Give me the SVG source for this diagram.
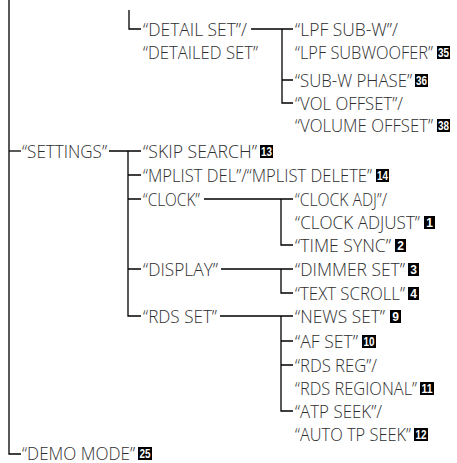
<svg xmlns="http://www.w3.org/2000/svg" width="457" height="463" viewBox="0 0 457 463">
<style>
.t{font-family:"Open Sans","Liberation Sans",sans-serif;font-weight:300;font-size:17.5px;fill:#2e2e2e}
.b{fill:#000}
.bt{font-family:"Liberation Sans","DejaVu Sans",sans-serif;font-size:12px;font-weight:bold;fill:#fff;text-anchor:middle}
.c{fill:none;stroke:#000;stroke-width:1.3}
</style>
<rect width="457" height="463" fill="#fff"/>
<g id="connectors">
<path class="c" d="M9 0V454H21"/>
<path class="c" d="M9 151H21"/>
<path class="c" d="M129 10V29H141"/>
<path class="c" d="M251 29H293M282 29V103H293M282 80H293"/>
<path class="c" d="M109 151H141M128 151V316H141M128 175H141M128 199H141M128 269H141"/>
<path class="c" d="M204 199H293M281 199V245H293"/>
<path class="c" d="M221 269H293M281 269V293H293"/>
<path class="c" d="M220 316H293M281 316V411H293M281 341H293M281 365H293"/>
</g>
<g id="detail-set"><text class="t" x="143" y="36" textLength="104" lengthAdjust="spacingAndGlyphs">“DETAIL SET”/</text><text class="t" x="143" y="59" textLength="115" lengthAdjust="spacingAndGlyphs">“DETAILED SET”</text></g>
<g id="lpf"><text class="t" x="295" y="36" textLength="103" lengthAdjust="spacingAndGlyphs">“LPF SUB-W”/</text><text class="t" x="295" y="59" textLength="138" lengthAdjust="spacingAndGlyphs">“LPF SUBWOOFER”</text><rect class="b" x="437" y="46" width="13" height="13"/><text class="bt" x="443.5" y="57" textLength="11" lengthAdjust="spacingAndGlyphs">35</text></g>
<g id="subw-phase"><text class="t" x="295" y="87" textLength="117" lengthAdjust="spacingAndGlyphs">“SUB-W PHASE”</text><rect class="b" x="415" y="74" width="13" height="13"/><text class="bt" x="421.5" y="85" textLength="11" lengthAdjust="spacingAndGlyphs">36</text></g>
<g id="vol-offset"><text class="t" x="295" y="110" textLength="108" lengthAdjust="spacingAndGlyphs">“VOL OFFSET”/</text><text class="t" x="295" y="132" textLength="138" lengthAdjust="spacingAndGlyphs">“VOLUME OFFSET”</text><rect class="b" x="437" y="119" width="13" height="13"/><text class="bt" x="443.5" y="130" textLength="11" lengthAdjust="spacingAndGlyphs">38</text></g>
<g id="settings"><text class="t" x="22" y="158" textLength="85" lengthAdjust="spacingAndGlyphs">“SETTINGS”</text></g>
<g id="skip-search"><text class="t" x="143" y="158" textLength="114" lengthAdjust="spacingAndGlyphs">“SKIP SEARCH”</text><rect class="b" x="260" y="145" width="13" height="13"/><text class="bt" x="266.5" y="156" textLength="11" lengthAdjust="spacingAndGlyphs">13</text></g>
<g id="mplist"><text class="t" x="143" y="182" textLength="229" lengthAdjust="spacingAndGlyphs">“MPLIST DEL”/“MPLIST DELETE”</text><rect class="b" x="376" y="169" width="13" height="13"/><text class="bt" x="382.5" y="180" textLength="11" lengthAdjust="spacingAndGlyphs">14</text></g>
<g id="clock"><text class="t" x="143" y="206" textLength="57" lengthAdjust="spacingAndGlyphs">“CLOCK”</text></g>
<g id="clock-adj"><text class="t" x="295" y="206" textLength="92" lengthAdjust="spacingAndGlyphs">“CLOCK ADJ”/</text><text class="t" x="295" y="229" textLength="125" lengthAdjust="spacingAndGlyphs">“CLOCK ADJUST”</text><rect class="b" x="424" y="216" width="11" height="13"/><text class="bt" x="429.5" y="227">1</text></g>
<g id="time-sync"><text class="t" x="295" y="252" textLength="96" lengthAdjust="spacingAndGlyphs">“TIME SYNC”</text><rect class="b" x="395" y="239" width="11" height="13"/><text class="bt" x="400.5" y="250">2</text></g>
<g id="display"><text class="t" x="143" y="276" textLength="75" lengthAdjust="spacingAndGlyphs">“DISPLAY”</text></g>
<g id="dimmer-set"><text class="t" x="295" y="276" textLength="110" lengthAdjust="spacingAndGlyphs">“DIMMER SET”</text><rect class="b" x="408" y="263" width="11" height="13"/><text class="bt" x="413.5" y="274">3</text></g>
<g id="text-scroll"><text class="t" x="295" y="300" textLength="110" lengthAdjust="spacingAndGlyphs">“TEXT SCROLL”</text><rect class="b" x="408" y="287" width="11" height="13"/><text class="bt" x="413.5" y="298">4</text></g>
<g id="rds-set"><text class="t" x="143" y="323" textLength="74" lengthAdjust="spacingAndGlyphs">“RDS SET”</text></g>
<g id="news-set"><text class="t" x="295" y="323" textLength="90" lengthAdjust="spacingAndGlyphs">“NEWS SET”</text><rect class="b" x="390" y="310" width="11" height="13"/><text class="bt" x="395.5" y="321">9</text></g>
<g id="af-set"><text class="t" x="295" y="348" textLength="63" lengthAdjust="spacingAndGlyphs">“AF SET”</text><rect class="b" x="362" y="335" width="14" height="13"/><text class="bt" x="369" y="346" textLength="11" lengthAdjust="spacingAndGlyphs">10</text></g>
<g id="rds-reg"><text class="t" x="295" y="372" textLength="82" lengthAdjust="spacingAndGlyphs">“RDS REG”/</text><text class="t" x="295" y="395" textLength="122" lengthAdjust="spacingAndGlyphs">“RDS REGIONAL”</text><rect class="b" x="420" y="382" width="14" height="13"/><text class="bt" x="427" y="393" textLength="11" lengthAdjust="spacingAndGlyphs">11</text></g>
<g id="atp-seek"><text class="t" x="295" y="418" textLength="87" lengthAdjust="spacingAndGlyphs">“ATP SEEK”/</text><text class="t" x="295" y="441" textLength="116" lengthAdjust="spacingAndGlyphs">“AUTO TP SEEK”</text><rect class="b" x="414" y="428" width="14" height="13"/><text class="bt" x="421" y="439" textLength="11" lengthAdjust="spacingAndGlyphs">12</text></g>
<g id="demo-mode"><text class="t" x="22" y="460" textLength="113" lengthAdjust="spacingAndGlyphs">“DEMO MODE”</text><rect class="b" x="138" y="447" width="14" height="13"/><text class="bt" x="145" y="458" textLength="11" lengthAdjust="spacingAndGlyphs">25</text></g>
</svg>
